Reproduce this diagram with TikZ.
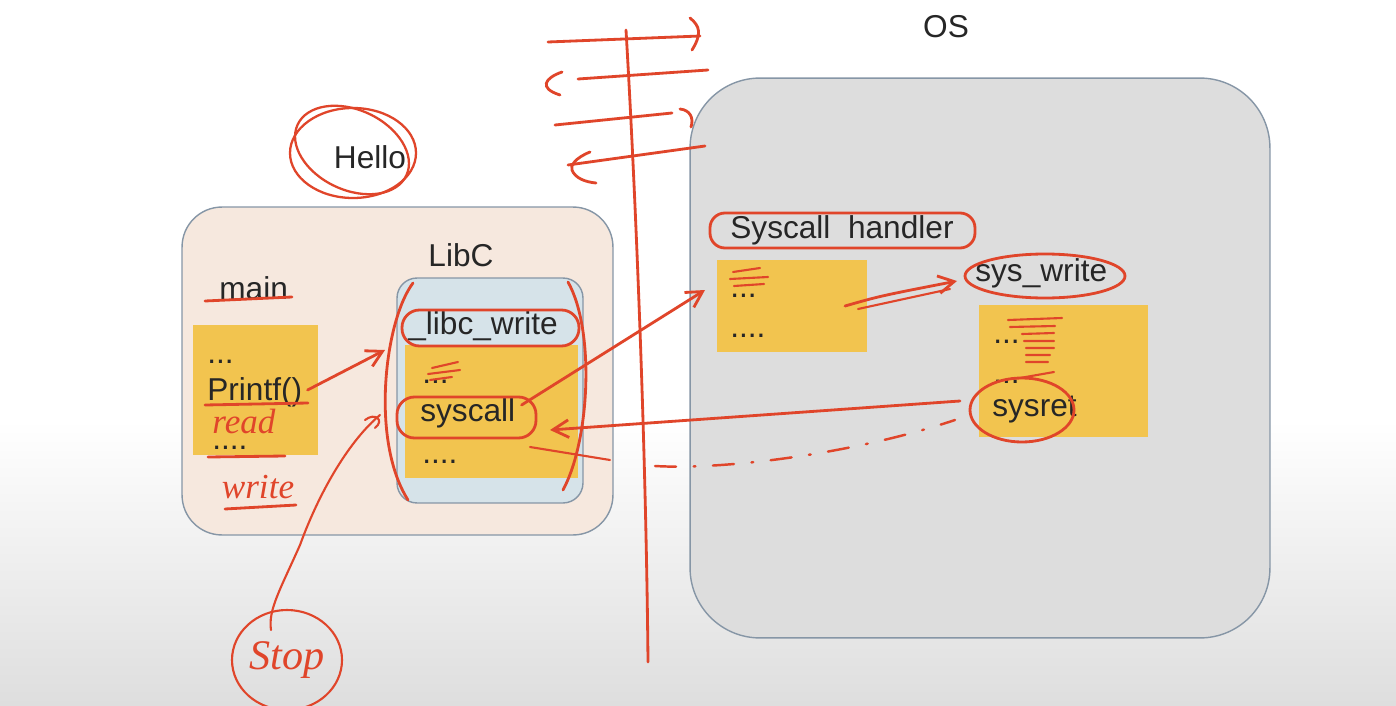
\documentclass[tikz,border=0pt]{standalone}
\usepackage{fontspec}
\setmainfont{Liberation Sans}
\newfontfamily\handfont{Liberation Serif}
\usetikzlibrary{arrows.meta,shapes.geometric}
\definecolor{beige}{HTML}{F6E8DE}
\definecolor{libblue}{HTML}{D6E3E9}
\definecolor{ylw}{HTML}{F2C44F}
\definecolor{osgray}{HTML}{DDDDDD}
\definecolor{edge}{HTML}{8696A6}
\definecolor{pen}{HTML}{E0452A}
\begin{document}
\begin{tikzpicture}[x=0.02cm,y=-0.02cm,
  txt/.style={font=\fontsize{18}{20}\selectfont, text=black!85, inner sep=0pt},
  dots/.style={txt, anchor=south west, text height=3pt, text depth=0pt},
  box/.style={draw=edge, line width=0.8pt},
  ybox/.style={fill=ylw, draw=none, inner sep=0pt},
  ink/.style={draw=pen, line width=1.6pt, line cap=round, line join=round},
  inkarrow/.style={ink, -{Straight Barb[length=9pt,width=10pt,line width=1.6pt]}},
  hand/.style={text=pen, font=\handfont\itshape\fontsize{20}{22}\selectfont, inner sep=0pt}]
% background
\useasboundingbox (0,0) rectangle (1396,706);
\fill[white] (0,0) rectangle (1396,706);
\shade[top color=white, bottom color=black!13] (0,420) rectangle (1396,706);
% process box
\node[box, fill=beige, rounded corners=0.8cm, minimum width=8.62cm, minimum height=6.56cm] (proc) at (397.5,371) {};
\node[box, fill=libblue, rounded corners=0.4cm, minimum width=3.72cm, minimum height=4.5cm] (libc) at (490,390.5) {};
\node[ybox, minimum width=3.46cm, minimum height=2.66cm] (libcy) at (491.5,411.5) {};
\node[ybox, minimum width=2.5cm, minimum height=2.6cm] (mainy) at (255.5,390) {};
% OS box
\node[box, fill=osgray, rounded corners=1.4cm, minimum width=11.6cm, minimum height=11.2cm] (os) at (980,358) {};
\node[ybox, minimum width=3.0cm, minimum height=1.84cm] (handy) at (792,306) {};
\node[ybox, minimum width=3.38cm, minimum height=2.64cm] (wry) at (1063.5,371) {};
% texts
\node[txt] (ostxt) at (946,27) {OS};
\node[txt] (hello) at (370,157) {Hello};
\node[txt] (libctxt) at (461,255) {LibC};
\node[txt, anchor=west] (main) at (219,288) {main};
\node[dots] (m1) at (207,364) {...};
\node[txt, anchor=west] (printf) at (207,392) {Printf()};
\node[dots] (m2) at (212,450) {....};
\node[txt, anchor=west] (lw) at (408,326) {\_libc\_write};
\node[dots] (l1) at (422,384) {...};
\node[txt, anchor=west] (syscall) at (420,413) {syscall};
\node[dots] (l2) at (422,464) {....};
\node[txt, anchor=west] (handler) at (730,230) {Syscall\ \ handler};
\node[dots] (h1) at (730,298) {...};
\node[dots] (h2) at (730,338) {....};
\node[txt, anchor=west] (syswrite) at (975,273) {sys\_write};
\node[dots] (w1) at (993,344) {...};
\node[dots] (w2) at (993,384) {...};
\node[txt, anchor=west] (sysret) at (992,410) {sysret};
% handwritten words
\node[hand] (read) at (244,421) {read};
\node[hand] (write) at (258,487) {write};
\node[hand, font=\handfont\itshape\fontsize{24}{26}\selectfont] (stop) at (287,660) {Stop};
% ===== red ink =====
% vertical boundary
\coordinate (vtop) at (626,30);
\coordinate (vbot) at (648,662);
\draw[ink] (vtop) .. controls (636,200) and (646,450) .. (vbot);
% top arrows
\draw[ink] (548,42) -- (700,36);
\draw[ink] (690,18) .. controls (700,26) and (702,34) .. (692,50);
\draw[ink] (562,72) .. controls (545,78) and (538,88) .. (560,95);
\draw[ink] (578,79) -- (708,70);
\draw[ink] (555,125) -- (672,113);
\draw[ink] (680,109) .. controls (690,110) and (694,118) .. (691,127);
\draw[ink] (568,165) -- (705,146);
\draw[ink] (590,152) .. controls (575,158) and (570,166) .. (572,170) .. controls (575,178) and (585,182) .. (596,183);
% Hello circles
\draw[ink, line width=1.3pt] (353,153) ellipse [x radius=63, y radius=45];
\draw[ink, line width=1.3pt, rotate around={-25:(352,150)}] (352,150) ellipse [x radius=60, y radius=40];
% main underline, read/write underlines
\draw[ink] (205,301) -- (292,297);
\draw[ink] (205,405) -- (308,403);
\draw[ink] (208,457) -- (285,456);
\draw[ink] (225,509) -- (296,505);
% libc brackets
\draw[ink] (413,283) .. controls (385,320) and (370,440) .. (408,500);
\draw[ink] (568,282) .. controls (595,330) and (590,440) .. (563,490);
% outlines
\draw[ink, rounded corners=0.35cm] (402,310) rectangle (579,346);
\draw[ink, rounded corners=0.35cm] (397,397) rectangle (536,438);
\draw[ink, rounded corners=0.3cm] (710,213) rectangle (975,248);
\draw[ink] (1045,276) ellipse [x radius=80, y radius=22];
\draw[ink] (1022,410) ellipse [x radius=52, y radius=32];
% scribbles
\draw[ink, line width=1.2pt] (432,368) -- (458,362) (428,374) -- (460,370) (430,380) -- (452,377);
\draw[ink, line width=1.2pt] (733,272) -- (760,268) (730,279) -- (768,277) (734,286) -- (764,284);
\draw[ink, line width=1.2pt] (1008,320) -- (1062,318) (1010,327) -- (1055,326) (1022,334) -- (1054,333)
  (1024,341) -- (1054,341) (1026,348) -- (1054,348) (1026,355) -- (1050,355) (1026,362) -- (1048,362) (1020,378) -- (1054,372);
% arrows
\draw[inkarrow] (printf.east) ++(5,-2) -- (385,350);
\draw[inkarrow] (syscall.east) ++(6,-8) -- (705,290);
\draw[inkarrow] (845,306) .. controls (880,296) .. (957,281);
\draw[ink, line width=1.2pt] (858,309) -- (950,289);
\draw[inkarrow] (960,401) -- (550,430);
% exit line and dashed return
\draw[ink, line width=1.2pt] (530,447) -- (610,460);
\draw[ink, line width=1.4pt, dash pattern=on 12pt off 10pt on 1pt off 10pt] (655,466) .. controls (720,470) and (850,455) .. (955,420);
% stop
\draw[ink, line width=1.2pt] (287,660) circle [x radius=55, y radius=50];
\draw[ink, line width=1.2pt] (271,630) .. controls (268,610) and (280,590) .. (300,545) .. controls (320,490) and (350,440) .. (380,415);
\draw[ink, line width=1.2pt] (365,420) .. controls (375,412) and (385,420) .. (375,428);
\end{tikzpicture}
\end{document}
